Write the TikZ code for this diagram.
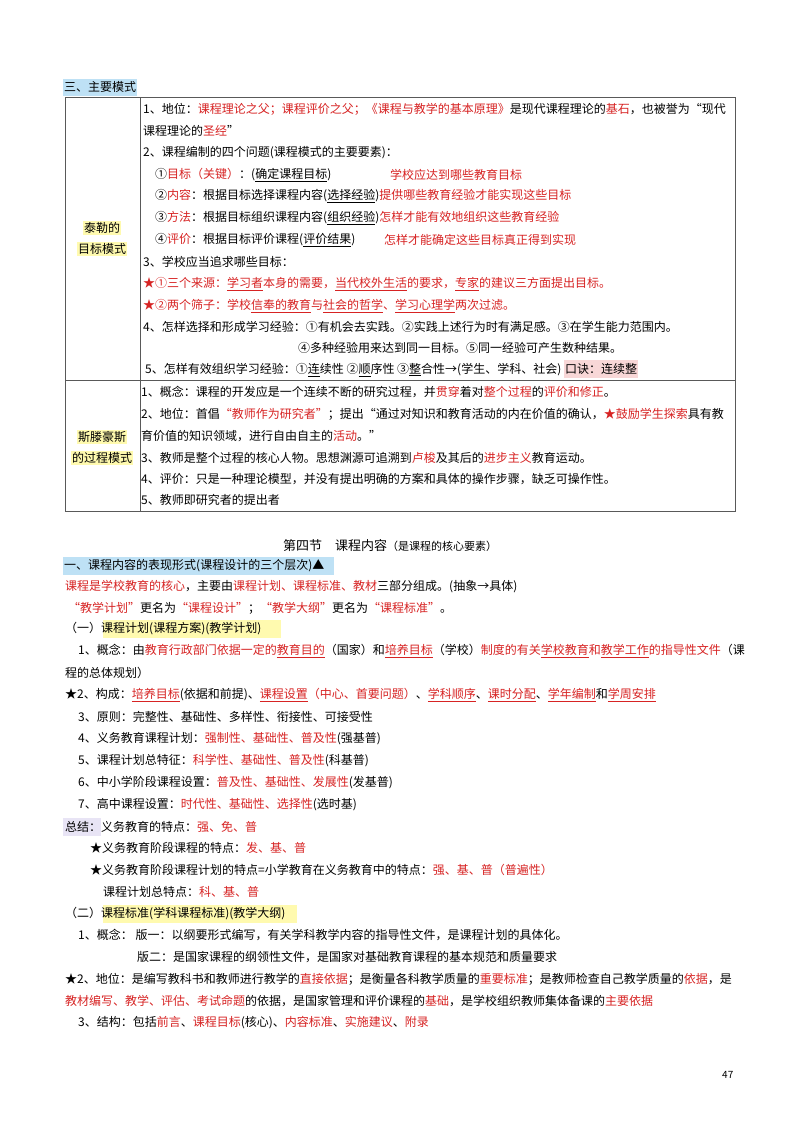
\documentclass[tikz,border=0pt]{standalone}
\usepackage{fontspec}
\setmainfont{Noto Sans CJK SC}
\definecolor{rd}{RGB}{215,35,35}
\definecolor{hblue}{RGB}{190,225,245}
\definecolor{hyel}{RGB}{255,250,175}
\definecolor{hpink}{RGB}{248,215,215}
\definecolor{hlav}{RGB}{232,228,245}
\newcommand\R[1]{\textcolor{rd}{#1}}
\newcommand\RU[1]{\textcolor{rd}{\underline{#1}}}
\newcommand\U[1]{\underline{#1}}
\begin{document}
\begin{tikzpicture}[x=1pt,y=-1pt,
  t/.style={anchor=west,inner sep=0pt,font=\fontsize{12}{13}\selectfont},
  lab/.style={anchor=center,inner sep=1pt,fill=hyel,font=\fontsize{12}{13}\selectfont}]
\useasboundingbox (0,0) rectangle (800,1130);
\fill[white] (0,0) rectangle (800,1130);
% highlights
\fill[hblue] (63,79) rectangle (137,96);
\fill[hblue] (63,557) rectangle (334,575);
\fill[hyel] (103,620) rectangle (281,638);
\fill[hlav] (63,818) rectangle (101,836);
\fill[hyel] (103,905) rectangle (297,923);
% table
\draw[gray!70!black,line width=0.5pt] (65,97) rectangle (735,511);
\draw[gray!70!black,line width=0.5pt] (140,97) -- (140,511);
\draw[gray!70!black,line width=0.5pt] (65,380) -- (735,380);
\node[t] (h0) at (64,87) {三、主要模式};
\node[lab] (l1) at (102,228) {泰勒的};
\node[lab] (l2) at (102,249) {目标模式};
\node[lab] (l3) at (102,437) {斯滕豪斯};
\node[lab] (l4) at (102,458) {的过程模式};
\node[t] (a1) at (143,109) {1、地位：\R{课程理论之父；课程评价之父；《课程与教学的基本原理》}是现代课程理论的\R{基石}，也被誉为“现代};
\node[t] (a2) at (143,131) {课程理论的\R{圣经}”};
\node[t] (a3) at (143,153) {2、课程编制的四个问题(课程模式的主要要素)：};
\node[t] (a4) at (155,175) {①\R{目标（关键）}：(\U{确定课程目标})};
\node[t] (a4b) at (390,175) {\R{学校应达到哪些教育目标}};
\node[t] (a5) at (155,196) {②\R{内容}：根据目标选择课程内容(\U{选择经验})\R{提供哪些教育经验才能实现这些目标}};
\node[t] (a6) at (155,218) {③\R{方法}：根据目标组织课程内容(\U{组织经验})\R{怎样才能有效地组织这些教育经验}};
\node[t] (a7) at (155,240) {④\R{评价}：根据目标评价课程(\U{评价结果})};
\node[t] (a7b) at (384,240) {\R{怎样才能确定这些目标真正得到实现}};
\node[t] (a8) at (143,262) {3、学校应当追求哪些目标：};
\node[t] (a9) at (143,284) {\R{★①三个来源：\U{学习者}本身的需要，\U{当代校外生活}的要求，\U{专家}的建议三方面提出目标。}};
\node[t] (a10) at (143,306) {\R{★②两个筛子：学校\U{信奉的教育}与\U{社会的哲学}、\U{学习心理学}两次过滤。}};
\node[t] (a11) at (143,327) {4、怎样选择和形成学习经验：①有机会去实践。②实践上述行为时有满足感。③在学生能力范围内。};
\node[t] (a12) at (298,348) {④多种经验用来达到同一目标。⑤同一经验可产生数种结果。};
\node[t] (a13) at (145,369) {5、怎样有效组织学习经验：①\U{连}续性 ②\U{顺}序性 ③\U{整}合性→(学生、学科、社会) \colorbox{hpink}{\kern-2pt 口诀：连续整\kern-2pt}};
\node[t] (b1) at (141,392) {1、概念：课程的开发应是一个连续不断的研究过程，并\R{贯穿}着对\R{整个过程}的\R{评价和修正}。};
\node[t] (b2) at (141,414) {2、地位：首倡\R{“教师作为研究者”}；提出“通过对知识和教育活动的内在价值的确认，\R{★鼓励学生探索}具有教};
\node[t] (b3) at (141,436) {育价值的知识领域，进行自由自主的\R{活动}。”};
\node[t] (b4) at (141,458) {3、教师是整个过程的核心人物。思想渊源可追溯到\R{卢梭}及其后的\R{进步主义}教育运动。};
\node[t] (b5) at (141,479) {4、评价：只是一种理论模型，并没有提出明确的方案和具体的操作步骤，缺乏可操作性。};
\node[t] (b6) at (141,500) {5、教师即研究者的提出者};
% section
\node[t,font=\fontsize{13}{14}\selectfont] (s0) at (283,546) {第四节\quad 课程内容\fontsize{11}{12}\selectfont（是课程的核心要素）};
\node[t] (c1) at (64,566) {一、课程内容的表现形式(课程设计的三个层次)▲};
\node[t] (c2) at (65,587) {\R{课程是学校教育的核心}，主要由\R{课程计划、课程标准、教材}三部分组成。(抽象→具体)};
\node[t] (c3) at (68,608) {\R{“教学计划”}更名为\R{“课程设计”}；\R{“教学大纲”}更名为\R{“课程标准”}。};
\node[t] (c4) at (65,629) {（一）课程计划(课程方案)(教学计划)};
\node[t] (c5) at (78,651) {1、概念：由\R{教育行政部门依据一定的\U{教育目的}}（国家）和\RU{培养目标}（学校）\R{制度的有关\U{学校教育}和\U{教学工作}的指导性文件}（课};
\node[t] (c6) at (65,673) {程的总体规划）};
\node[t] (c7) at (65,695) {★2、构成：\RU{培养目标}(依据和前提)、\RU{课程设置}\R{（中心、首要问题）}、\RU{学科顺序}、\RU{课时分配}、\RU{学年编制}和\RU{学周安排}};
\node[t] (c8) at (78,717) {3、原则：完整性、基础性、多样性、衔接性、可接受性};
\node[t] (c9) at (78,739) {4、义务教育课程计划：\R{强制性、基础性、普及性}(强基普)};
\node[t] (c10) at (78,761) {5、课程计划总特征：\R{科学性、基础性、普及性}(科基普)};
\node[t] (c11) at (78,783) {6、中小学阶段课程设置：\R{普及性、基础性、发展性}(发基普)};
\node[t] (c12) at (78,805) {7、高中课程设置：\R{时代性、基础性、选择性}(选时基)};
\node[t] (c13) at (65,827) {总结：义务教育的特点：\R{强、免、普}};
\node[t] (c14) at (90,848) {★义务教育阶段课程的特点：\R{发、基、普}};
\node[t] (c15) at (90,870) {★义务教育阶段课程计划的特点=小学教育在义务教育中的特点：\R{强、基、普（普遍性）}};
\node[t] (c16) at (103,892) {课程计划总特点：\R{科、基、普}};
\node[t] (d1) at (65,914) {（二）课程标准(学科课程标准)(教学大纲)};
\node[t] (d2) at (78,935) {1、概念： 版一：以纲要形式编写，有关学科教学内容的指导性文件，是课程计划的具体化。};
\node[t] (d3) at (137,957) {版二：是国家课程的纲领性文件，是国家对基础教育课程的基本规范和质量要求};
\node[t] (d4) at (65,979) {★2、地位：是编写教科书和教师进行教学的\R{直接依据}；是衡量各科教学质量的\R{重要标准}；是教师检查自己教学质量的\R{依据}，是};
\node[t] (d5) at (65,1001) {\R{教材编写、教学、评估、考试命题}的依据，是国家管理和评价课程的\R{基础}，是学校组织教师集体备课的\R{主要依据}};
\node[t] (d6) at (78,1023) {3、结构：包括\R{前言}、\R{课程目标}(核心)、\R{内容标准}、\R{实施建议}、\R{附录}};
\node[t,font=\fontsize{10}{11}\selectfont] (pg) at (722,1075) {47};
\end{tikzpicture}
\end{document}
